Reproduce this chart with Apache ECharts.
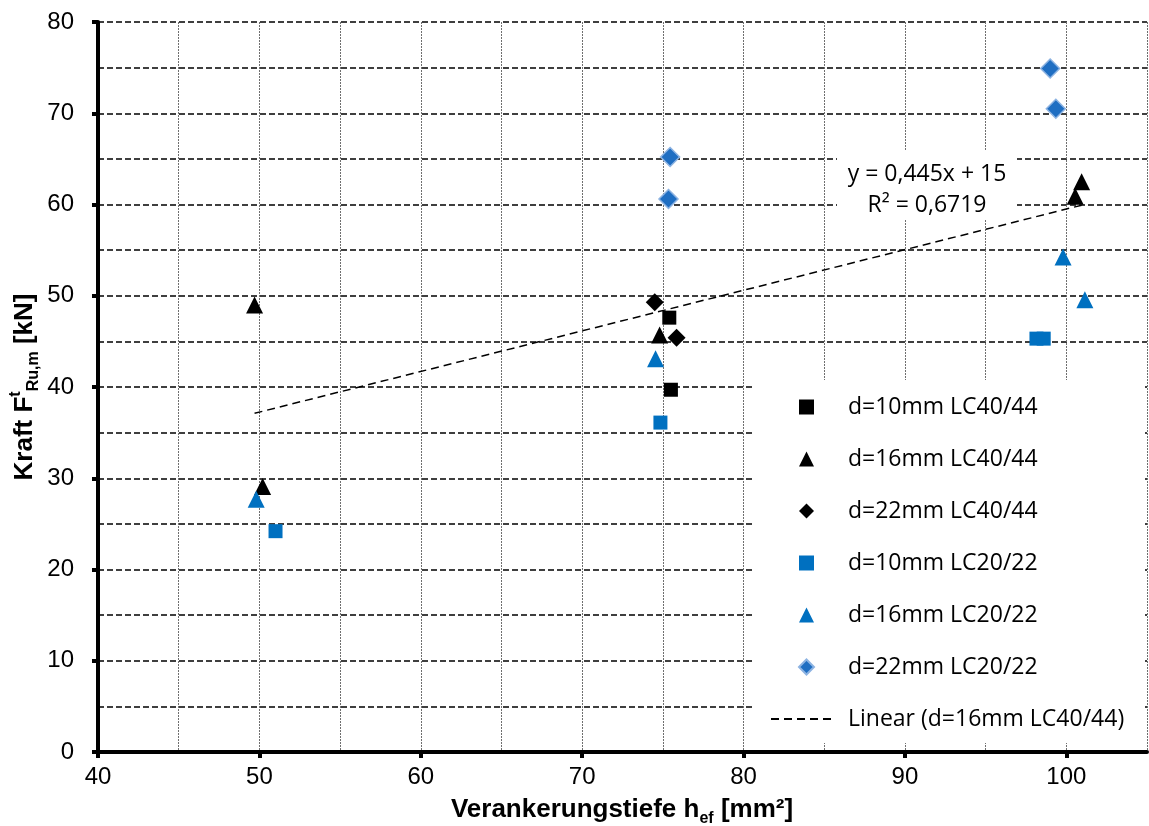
<!DOCTYPE html>
<html>
<head>
<meta charset="utf-8">
<script src="https://cdn.jsdelivr.net/npm/echarts@6/dist/echarts.min.js"></script>
<style>
html,body{margin:0;padding:0;background:#fff;}
#chart{width:1149px;height:826px;}
</style>
</head>
<body>
<div id="chart"></div>
<script>
// ---- data ----
const xTicks = [40, 50, 60, 70, 80, 90, 100];
const yTicks = [0, 10, 20, 30, 40, 50, 60, 70, 80];
const seriesNames = ['d=10mm LC40/44', 'd=16mm LC40/44', 'd=22mm LC40/44',
                     'd=10mm LC20/22', 'd=16mm LC20/22', 'd=22mm LC20/22'];
const trendName = 'Linear (d=16mm LC40/44)';
const sq40X = [75.4, 75.5];
const sq40Y = [47.6, 39.7];
const tri40X = [49.7, 50.2, 74.8, 100.55, 100.95];
const tri40Y = [49.0, 29.1, 45.7, 60.9, 62.5];
const dia40X = [74.5, 75.85];
const dia40Y = [49.3, 45.4];
const sq20X = [51.0, 74.85, 98.15, 98.6];
const sq20Y = [24.2, 36.1, 45.3, 45.3];
const tri20X = [49.8, 74.55, 99.8, 101.15];
const tri20Y = [27.7, 43.1, 54.25, 49.55];
const dia20X = [75.45, 75.35, 99.0, 99.35];
const dia20Y = [65.2, 60.6, 74.9, 70.5];
const trendSlope = 0.445;
const trendIntercept = 15;
const eqLines = ['y = 0,445x + 15', 'R² = 0,6719'];

function pts(xs, ys) { return xs.map((x, i) => [x, ys[i]]); }
const tMin = Math.min(...tri40X), tMax = Math.max(...tri40X);
const trendData = [[tMin, trendSlope * tMin + trendIntercept], [tMax, trendSlope * tMax + trendIntercept]];

const BLUE = '#0070C0';
const labelFont = 'Liberation Sans';
const legFont = 'Open Sans';

const chart = echarts.init(document.getElementById('chart'));
const option = {
  animation: false,
  backgroundColor: '#fff',
  grid: { left: 98, right: 2, top: 22, bottom: 74, containLabel: false },
  xAxis: [
    {
      type: 'value', min: 40, max: 105, interval: 10, position: 'bottom',
      axisLine: { onZero: false, lineStyle: { color: '#000', width: 4 } },
      axisTick: { show: true, inside: false, length: 6, customValues: xTicks, lineStyle: { color: '#000', width: 4 } },
      axisLabel: { customValues: xTicks, margin: 13, color: '#000', fontFamily: labelFont, fontSize: 24 },
      splitLine: { show: false }
    },
    {
      type: 'value', min: 40, max: 105, interval: 5, position: 'bottom',
      axisLine: { show: false }, axisTick: { show: false }, axisLabel: { show: false },
      splitLine: { show: true, lineStyle: { color: '#6f6f6f', width: 1, type: [2, 1] } }
    }
  ],
  yAxis: [
    {
      type: 'value', min: 0, max: 80, interval: 10, position: 'left',
      axisLine: { onZero: false, lineStyle: { color: '#000', width: 4 } },
      axisTick: { show: true, inside: false, length: 6, customValues: yTicks, lineStyle: { color: '#000', width: 4 } },
      axisLabel: { customValues: yTicks, margin: 24, color: '#000', fontFamily: labelFont, fontSize: 24 },
      splitLine: { show: false }
    },
    {
      type: 'value', min: 0, max: 80, interval: 5, position: 'left',
      axisLine: { show: false }, axisTick: { show: false }, axisLabel: { show: false },
      splitLine: { show: true, lineStyle: { color: '#000', width: 1.5, type: [6, 3] } }
    }
  ],
  legend: [
    {
      orient: 'vertical', left: 798, top: 394, padding: 0,
      itemWidth: 15, itemHeight: 15, itemGap: 26,
      textStyle: { fontFamily: legFont, fontSize: 23, color: '#000', lineHeight: 26, padding: [0, 0, 0, 29] },
      data: seriesNames
    },
    {
      orient: 'vertical', left: 770, top: 706, padding: 0,
      itemWidth: 65, itemHeight: 15,
      textStyle: { fontFamily: legFont, fontSize: 23, color: '#000', lineHeight: 26, padding: [0, 0, 0, 7] },
      data: [trendName]
    }
  ],
  graphic: [
    { type: 'rect', z: 1, shape: { x: 752, y: 380, width: 393, height: 363 }, style: { fill: '#fff' } },
    { type: 'rect', z: 1, shape: { x: 837, y: 150, width: 180, height: 70 }, style: { fill: '#fff' } },
    { type: 'text', z: 3, x: 927, y: 174, style: { text: eqLines[0], font: '23px "Open Sans"', fill: '#000', align: 'center', verticalAlign: 'middle' } },
    { type: 'text', z: 3, x: 927, y: 205, style: { text: eqLines[1], font: '23px "Open Sans"', fill: '#000', align: 'center', verticalAlign: 'middle' } },
    {
      type: 'text', z: 3, x: 622, y: 810,
      style: {
        text: '{b|Verankerungstiefe h}{s|ef}{b| [mm²]}',
        align: 'center', verticalAlign: 'middle',
        rich: {
          b: { fontFamily: labelFont, fontWeight: 'bold', fontSize: 26, lineHeight: 34, fill: '#000' },
          s: { fontFamily: labelFont, fontWeight: 'bold', fontSize: 16, lineHeight: 19, verticalAlign: 'bottom', fill: '#000' }
        }
      }
    },
    {
      type: 'text', z: 3, x: 25, y: 387, rotation: Math.PI / 2,
      style: {
        text: '{b|Kraft F}{p|t}{s|Ru,m}{b| [kN]}',
        align: 'center', verticalAlign: 'middle',
        rich: {
          b: { fontFamily: labelFont, fontWeight: 'bold', fontSize: 26, lineHeight: 34, fill: '#000' },
          p: { fontFamily: labelFont, fontWeight: 'bold', fontSize: 16, lineHeight: 19, verticalAlign: 'top', fill: '#000' },
          s: { fontFamily: labelFont, fontWeight: 'bold', fontSize: 16, lineHeight: 19, verticalAlign: 'bottom', fill: '#000' }
        }
      }
    }
  ],
  series: [
    { name: seriesNames[0], type: 'scatter', symbol: 'rect', symbolSize: 14, itemStyle: { color: '#000', opacity: 1 }, data: pts(sq40X, sq40Y), z: 3 },
    { name: seriesNames[1], type: 'scatter', symbol: 'triangle', symbolSize: 17, itemStyle: { color: '#000', opacity: 1 }, data: pts(tri40X, tri40Y), z: 3 },
    { name: seriesNames[2], type: 'scatter', symbol: 'diamond', symbolSize: 18, itemStyle: { color: '#000', opacity: 1 }, data: pts(dia40X, dia40Y), z: 3 },
    { name: seriesNames[3], type: 'scatter', symbol: 'rect', symbolSize: 14, itemStyle: { color: BLUE, opacity: 1 }, data: pts(sq20X, sq20Y), z: 3 },
    { name: seriesNames[4], type: 'scatter', symbol: 'triangle', symbolSize: 17, itemStyle: { color: BLUE, opacity: 1 }, data: pts(tri20X, tri20Y), z: 3 },
    { name: seriesNames[5], type: 'scatter', symbol: 'diamond', symbolSize: 19, itemStyle: { color: '#1F6EC2', borderColor: '#8DB3E2', borderWidth: 1.5, opacity: 1 }, data: pts(dia20X, dia20Y), z: 3 },
    { name: trendName, type: 'line', symbol: 'none', showSymbol: false, itemStyle: { color: '#000', opacity: 0 }, lineStyle: { color: '#000', width: 1.5, type: [8, 5] }, data: trendData, z: 2 }
  ]
};
chart.setOption(option);
</script>
</body>
</html>
